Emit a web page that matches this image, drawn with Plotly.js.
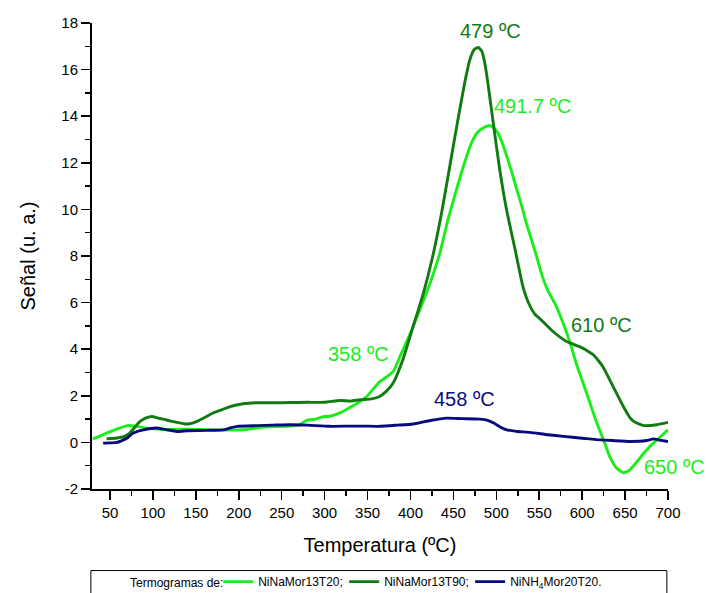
<!DOCTYPE html>
<html>
<head>
<meta charset="utf-8">
<script src="https://cdn.plot.ly/plotly-3.0.1.min.js"></script>
<style>html,body{margin:0;padding:0;background:#fff;}#chart{width:707px;height:593px;}</style>
</head>
<body>
<div id="chart"></div>
<script>
// NiNaMor13T20 (light green)
var t20T = [30,40,46,58,70,81,95,110,125,143,160,180,205,220,240,260,271,279,290,298,306,320,333,341,349,358,364,372,380,388,400,411,423,434,444,454,463,471,478,485,492,497,502,507,512,518,524,530,535,541,547,553,559,570,578,586,593,601,609,617,625,632,640,648,655,663,671,679,690,700];
var t20S = [0.15,0.3,0.4,0.57,0.72,0.69,0.6,0.56,0.56,0.57,0.55,0.53,0.54,0.62,0.68,0.7,0.76,0.95,1.0,1.1,1.12,1.3,1.57,1.75,1.97,2.35,2.6,2.8,3.05,3.7,4.7,5.7,6.85,8.1,9.6,10.9,12.0,12.85,13.3,13.5,13.6,13.5,13.27,12.85,12.3,11.6,10.83,10.1,9.4,8.7,7.97,7.2,6.6,5.83,5.1,4.27,3.4,2.56,1.7,0.84,0.1,-0.6,-1.1,-1.3,-1.2,-0.87,-0.5,-0.17,0.2,0.54];

// NiNaMor13T90 (dark green)
var t90T = [46,58,66,73,80,85,92,99,105,112,120,128,136,143,150,155,162,170,180,190,205,220,240,260,280,300,318,330,341,355,364,372,380,391,403,415,426,436,446,456,463,469,474,479,483,487,491,496,504,512,522,531,538,545,551,566,582,597,605,613,624,636,648,655,660,671,687,700];
var t90S = [0.15,0.19,0.25,0.4,0.7,0.9,1.05,1.11,1.05,1.0,0.92,0.86,0.8,0.8,0.88,0.97,1.1,1.26,1.4,1.54,1.66,1.7,1.7,1.71,1.72,1.72,1.8,1.77,1.83,1.87,1.97,2.2,2.56,3.54,4.97,6.4,8.0,9.8,11.9,14.0,15.4,16.4,16.85,16.95,16.8,16.2,15.2,13.83,11.7,9.97,8.26,6.69,5.95,5.5,5.3,4.76,4.33,4.11,3.95,3.76,3.26,2.4,1.54,1.1,0.9,0.73,0.76,0.86];

// NiNH4Mor20T20 (navy)
var nhT = [42,50,58,65,70,77,89,104,115,128,140,155,170,182,190,198,221,240,260,280,306,330,345,364,385,403,415,423,442,460,481,490,497,505,512,525,539,560,578,600,617,635,656,675,683,690,700];
var nhS = [-0.03,-0.02,0.0,0.1,0.19,0.4,0.54,0.62,0.55,0.47,0.5,0.51,0.52,0.54,0.62,0.69,0.72,0.74,0.76,0.74,0.69,0.7,0.7,0.69,0.74,0.79,0.88,0.94,1.04,1.02,1.0,0.95,0.83,0.65,0.54,0.47,0.43,0.33,0.26,0.18,0.12,0.08,0.04,0.08,0.15,0.1,0.04];

var seriesNames = ['NiNaMor13T20;', 'NiNaMor13T90;', 'NiNH<sub>4</sub>Mor20T20.'];
var legendLead = 'Termogramas de:';
var yTickVals = [-2, 0, 2, 4, 6, 8, 10, 12, 14, 16, 18];
var yTickText = ['-2', '0', '2', '4', '6', '8', '10', '12', '14', '16', '18'];

var colLight = '#1aee1a', colDark = '#117a11', colNavy = '#0a0a80';
var FONT = 'Liberation Sans, Arial, Helvetica, sans-serif';

function tr(x, y, name, color, lw) {
  var t = {x: x, y: y, name: name, type: 'scatter', mode: 'lines',
          line: {color: color, width: 2.9, shape: 'spline', smoothing: 0.5}};
  if (lw) t.legendwidth = lw;
  return t;
}
var data = [tr(t20T, t20S, seriesNames[0], colLight),
            tr(t90T, t90S, seriesNames[1], colDark),
            tr(nhT, nhS, seriesNames[2], colNavy, 130)];

var annFont = 20;
var anns = [
  {x: 493, y: 17.65, text: '479 ºC', color: colDark},
  {x: 542, y: 14.43, text: '491.7 ºC', color: colLight},
  {x: 340, y: 3.8, text: '358 ºC', color: colLight},
  {x: 623, y: 5.04, text: '610 ºC', color: colDark},
  {x: 463, y: 1.87, text: '458 ºC', color: colNavy}
].map(function(a){ return {x: a.x, y: a.y, xref: 'x', yref: 'y', text: a.text, showarrow: false,
  font: {family: FONT, size: annFont, color: a.color}}; });
anns.push({x: 0.955, y: -1.04, xref: 'paper', yref: 'y', xanchor: 'left', text: '650 ºC', showarrow: false,
  font: {family: FONT, size: annFont, color: colLight}});
anns.push({x: 0.231, y: -0.2025, xref: 'paper', yref: 'paper', xanchor: 'right', yanchor: 'middle',
  text: legendLead, showarrow: false, font: {family: FONT, size: 12, color: '#000'}});

var layout = {
  width: 707, height: 593,
  margin: {l: 92, r: 39, t: 23, b: 104, pad: 0, autoexpand: false},
  paper_bgcolor: '#fff', plot_bgcolor: '#fff',
  font: {family: FONT, color: '#000'},
  showlegend: true,
  xaxis: {
    range: [29, 700], showgrid: false, zeroline: false,
    showline: true, linecolor: '#000', linewidth: 2,
    ticks: 'outside', ticklen: 9, tickwidth: 1.5, tickcolor: '#000',
    dtick: 50, tick0: 0, tickfont: {size: 15, family: FONT},
    minor: {ticks: 'outside', ticklen: 5, tickwidth: 1.5, tickcolor: '#000', dtick: 25, showgrid: false},
    title: {text: 'Temperatura (ºC)', font: {size: 20, family: FONT}, standoff: 18}
  },
  yaxis: {
    range: [-2, 18], showgrid: false, zeroline: false,
    showline: true, linecolor: '#000', linewidth: 2,
    ticks: 'outside', ticklen: 9, tickwidth: 1.5, tickcolor: '#000',
    tickmode: 'array', tickvals: yTickVals, ticktext: yTickText, tickfont: {size: 15, family: FONT},
    minor: {ticks: 'outside', ticklen: 5, tickwidth: 1.5, tickcolor: '#000', dtick: 1, showgrid: false},
    title: {text: 'Señal (u. a.)', font: {size: 20, family: FONT}, standoff: 20}
  },
  legend: {
    orientation: 'h', x: 0.219, xanchor: 'left', y: -0.1676, yanchor: 'top',
    bgcolor: 'rgba(0,0,0,0)', borderwidth: 0,
    font: {size: 12, family: FONT, color: '#000'},
    itemwidth: 30, traceorder: 'normal',
    entrywidth: 81, entrywidthmode: 'pixels'
  },
  shapes: [{type: 'rect', xref: 'paper', yref: 'paper', x0: -0.002, x1: 0.998,
            y0: -0.175, y1: -0.3, line: {color: '#000', width: 1}, fillcolor: 'rgba(0,0,0,0)'}],
  annotations: anns
};

Plotly.newPlot('chart', data, layout, {displayModeBar: false, staticPlot: true});
</script>
</body>
</html>
